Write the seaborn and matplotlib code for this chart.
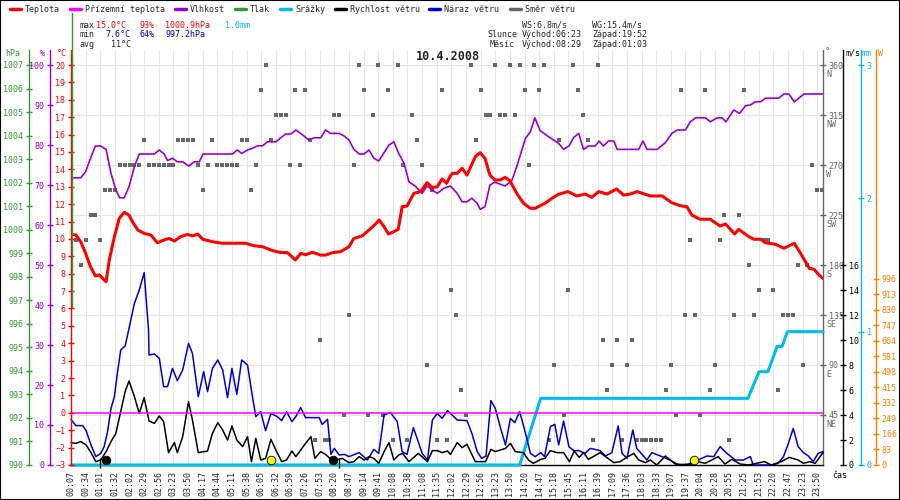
import matplotlib
matplotlib.use("Agg")
import matplotlib.pyplot as plt
import matplotlib.transforms as mtransforms
from matplotlib.lines import Line2D
from matplotlib.patches import Rectangle
import numpy as np
import seaborn as sns

RED = "#ff0000"
MAGENTA = "#ff00ff"
PURPLE = "#9900cc"
GREEN = "#339933"
CYAN = "#00bbee"
BLACK = "#000000"
BLUE = "#0000cc"
GRAY = "#666666"
ORANGE = "#ff8000"

# x axis: sample index, one label every 3 samples
time_labels = ["00:07", "00:34", "01:01", "01:32", "02:02", "02:29", "02:56", "03:23", "03:50",
               "04:17", "04:44", "05:11", "05:38", "06:05", "06:32", "06:59", "07:26", "07:53",
               "08:20", "08:47", "09:14", "09:41", "10:08", "10:38", "11:08", "11:35", "12:02",
               "12:29", "12:56", "13:23", "13:50", "14:20", "14:47", "15:18", "15:45", "16:11",
               "16:39", "17:09", "17:36", "18:03", "18:33", "19:07", "19:37", "20:04", "20:28",
               "20:55", "21:25", "21:53", "22:20", "22:47", "23:23", "23:50"]

# temperature (°C)
temp_k = [0, 1, 2, 3, 4, 5, 5.8, 6.5, 7.2, 7.85, 8.9, 9.9, 10.9, 11.9, 12.6, 13.7, 15, 16.4, 17.7, 19.1,
          20.1, 21.2, 22.5, 23.9, 24.9, 26, 27, 29, 31, 35.8, 37.5, 39.3, 41, 42.7, 44.4, 46, 47.1, 48.1, 49.5, 51.2,
          52.2, 53.6, 55.3, 57, 58, 59.7, 61.1, 62.1, 63.2, 64.2, 65.1, 66.2, 67.1, 67.9, 68.9, 70.3, 71.7, 73, 74.1, 75.1,
          76.1, 77, 77.8, 78.2, 79.2, 80.2, 81.2, 82.9, 83.9, 84.9, 85.9, 86.9, 88, 89, 90, 91.4, 92.8, 94.2, 95.2, 97.2,
          98.6, 99.9, 101.9, 103.7, 105.4, 106.8, 108.2, 109.9, 111.9, 113.3, 114.7, 116.1, 117.8, 118.8, 121.2, 123.2,
          124.9, 126.3, 127.3, 129,
          131.1, 133.1, 134.2, 136.1, 136.9, 139, 140, 141.4, 142.4, 144.5, 146.2, 148.3, 149.6, 151.4, 152.4, 153.4,
          154.2]
temp_c = [10.26, 10.22, 9.84, 9.17, 8.40, 7.87, 7.93, 7.73, 7.54, 8.79, 10.13, 11.18, 11.53, 11.37, 10.99, 10.51,
          10.32, 10.22, 9.78, 9.94,
          10.03, 9.88, 10.13, 10.26, 10.17, 10.28, 9.98, 9.84, 9.75, 9.75, 9.61, 9.55, 9.36, 9.23, 9.21, 8.79, 9.17,
          9.09, 9.23, 9.07,
          9.07, 9.21, 9.27, 9.55, 10.03, 10.17, 10.51, 10.76, 11.09, 10.70, 10.28, 10.42, 10.55, 11.85, 11.89, 12.62,
          12.72, 13.23, 12.95, 13.00,
          13.45, 13.20, 13.62, 13.77, 13.77, 14.06, 13.67, 14.73, 14.96, 14.63, 13.67, 13.39, 13.39, 13.54, 13.35,
          12.62, 12.05, 11.76, 11.76, 12.05,
          12.33, 12.56, 12.72, 12.47, 12.58, 12.39, 12.72, 12.58, 12.87, 12.52, 12.58, 12.72, 12.56, 12.47, 12.47,
          12.08, 11.91, 11.85, 11.37, 11.13,
          11.13, 10.74, 10.86, 10.28, 10.55, 10.13, 9.98, 9.98, 9.78, 9.69, 9.46, 9.75, 9.17, 8.31, 8.25, 7.92, 7.73]

# apparent (ground) temperature, flat at zero
feel_k = [0, 154.2]
feel_c = [0, 0]

# humidity (%)
hum_k = [0, 2, 3, 4, 5, 6.1, 7.2, 8.2, 9.2, 10, 10.9, 11.9, 13, 14, 17.1, 18.1, 19.1, 19.8, 20.8, 21.8,
         22.9, 24.1, 25.3, 26.3, 27.1, 33.1, 34.1, 35, 36.2, 37.2, 38.3, 39.3, 40.3, 42, 44, 45.1, 46.1, 47.5, 48.8, 49.8,
         51.2, 52.2, 53.2, 55, 56, 57, 58, 59.1, 60.1, 61.1, 62.1, 63.1, 64.2, 65.2, 66.2, 67.2, 68.3, 69.3, 70.7, 72,
         73, 74.1, 75.1, 76.5, 77.8, 79.2, 80.2, 81.2, 82.2, 83.3, 83.9, 84.9, 85.9, 86.9, 89, 90.4, 91.4, 93.2, 94.2, 95.1,
         96.2, 97.9, 100, 101, 102.1, 103.1, 104.1, 105.1, 106.1, 107.5, 108.3, 109.2, 110.2, 111.3, 112, 116.4, 117.3,
         118.1, 120.2, 121.9,
         123.2, 124.3, 126, 127, 128.1, 130.1, 131.1, 132.5, 133.5, 134.3, 135.9, 137.1, 138.3, 139.3, 140.3, 141.4,
         142.4, 145.1, 146.2, 147.2,
         148.3, 150.3, 154.2]
hum_pct = [71.8, 71.8, 73.3, 76.7, 79.75, 79.75, 78.9, 72.9, 68.75, 66.8, 66.8, 69.6, 74.6, 77.75, 77.75, 78.75,
           77.75, 76.1, 76.7, 75.8,
           75.8, 74.75, 75.8, 75.8, 77.75, 77.75, 78.75, 77.9, 78.75, 79.2, 79.8, 79.8, 80.8, 80.8, 82.75, 82.75,
           83.75, 82.5, 81.25, 81.8,
           81.8, 83.75, 82.9, 82.9, 82.25, 81.25, 78.9, 77.75, 77.75, 78.75, 76.7, 76.0, 78.1, 80.0, 80.8, 77.9,
           75.4, 70.8, 69.6, 67.9,
           69.75, 68.75, 67.9, 69.2, 69.75, 67.9, 65.8, 65.8, 66.7, 65.4, 63.9, 64.6, 70.0, 70.7, 69.75, 71.1,
           74.6, 81.7, 83.3, 86.8,
           83.6, 82.1, 80.4, 78.9, 79.75, 81.9, 82.9, 78.9, 79.75, 79.75, 81.0, 79.75, 81.0, 81.0, 78.9, 78.9,
           81.0, 78.9, 78.9, 80.6,
           82.9, 83.75, 83.75, 85.8, 86.8, 86.8, 85.8, 86.8, 86.8, 85.8, 88.75, 87.9, 89.8, 90.0, 90.8, 90.8,
           91.7, 91.7, 92.75, 92.75,
           90.8, 92.75, 92.75]

# cumulative rain (mm)
rain_k = [0, 92, 96.3, 138.8, 141.1, 142.9, 144.8, 145.8, 146.9, 154.2]
rain_mm = [0, 0, 0.5, 0.5, 0.7, 0.7, 0.89, 0.89, 1.0, 1.0]

# wind gust (m/s)
gust_k = [0, 1, 2.4, 3.1, 4.1, 5.1, 6.1, 6.8, 7.5, 8.2, 8.9, 9.6, 10.2, 11.1, 11.9, 13, 14, 15, 15.9, 16.0,
          17.1, 18.1, 19, 19.8, 20.8, 21.8, 22.9, 24.1, 24.9, 26.1, 27.2, 28, 29, 30.1, 31.1, 32.1, 33, 34, 35, 36.2,
          37.2, 37.9, 38.9, 39.9, 41, 42.3, 43.2, 44.2, 45.3, 46.1, 47.1, 48.1, 50.9, 51.5, 52.6, 53.3, 54, 55, 56.1, 57,
          59.1, 60.8, 62.1, 63.1, 64.2, 65.5, 66.9, 67.9, 68.9, 70.2, 71.2, 72, 73.1, 74.1, 75.1, 76.1, 77.2,
          77.8, 79.2, 81.2, 82.2, 83.3, 84.2, 85.1, 86.1, 87, 88.1, 89.1, 90.1, 91, 92, 93.2, 94.2, 95.2, 96.3, 97.1, 98.3,
          99.2, 100, 101, 102.1, 103.1, 104.1, 105.4, 106.5, 108.5, 109.6, 110.9, 112.2, 113, 114, 115.2, 116, 117.1,
          118.1, 119.1, 121.2,
          123.2, 124.6, 126.6, 128.6, 130.4, 131.8, 133.1, 134.5, 136.2, 137.9, 139.3, 139.9, 143.7, 145, 146.1, 147.1,
          148.1, 149.1, 150.2, 151.2,
          152.2, 153.2, 154.2]
gust_ms = [3.65, 3.15, 3.15, 2.75, 1.6, 0.67, 0.93, 1.47, 2.67, 4.53, 5.47, 7.6, 9.2, 9.52, 10.93, 12.93, 14.0,
           15.39, 10.8, 8.8,
           8.88, 8.53, 6.27, 6.27, 7.73, 6.75, 7.6, 9.73, 8.93, 5.47, 7.47, 5.87, 7.73, 8.4, 7.6, 5.39, 7.73, 5.65,
           8.4, 8.0,
           5.47, 3.87, 4.27, 2.75, 4.13, 3.87, 3.55, 4.27, 3.47, 3.87, 4.59, 3.79, 3.79, 3.25, 3.65, 0.85, 1.33, 0.8,
           0.85, 0.67,
           0.99, 0.4, 1.25, 0.93, 4.0, 4.21, 3.47, 1.07, 0.85, 2.99, 1.87, 0.93, 0.4, 3.6, 4.13, 3.73, 4.35,
           4.13, 3.6, 3.55, 2.53, 1.07, 0.53, 0.72, 5.15, 4.53, 2.93, 1.6, 3.73, 3.39, 4.27, 2.53, 0.93, 0.67, 0.99,
           0.67, 3.07,
           3.25, 1.6, 3.52, 1.47, 1.15, 1.15, 0.93, 1.33, 1.15, 0.72, 0.99, 3.12, 0.93, 0.53, 2.8, 1.33, 0.85, 0.4,
           0.99, 0.67,
           0.32, 0.0, 0.08, 0.4, 0.72, 0.67, 1.47, 0.93, 0.4, 0.4, 0.67, 0.0, 0.0, 0.13, 0.67, 1.73, 2.93, 1.47,
           0.99, 0.72,
           0.27, 0.93, 1.07]

# wind speed (m/s)
speed_k = [0, 1, 2, 3.1, 4.1, 5.1, 6.1, 7.2, 8.2, 9.2, 10.2, 11.1, 11.9, 13, 14, 15, 16, 17.1, 18.1, 19,
           20, 21.2, 21.8, 22.9, 24.1, 24.9, 26.1, 28, 29, 30.1, 31.1, 32.1, 33, 34, 35.2, 36.2, 37, 37.9, 38.9, 39.9,
           41, 42, 43.2, 44.2, 45.3, 46.1, 47.1, 48.1, 49.2, 50, 51.2, 52.2, 53.3, 54.3, 55.6, 57, 58, 59.1, 60.1, 61.1,
           62.1, 63.1, 64.2, 65.2, 66.2, 67.2, 68, 69.3, 71.2, 73.1, 74.1, 75.1, 76.1, 77.2,
           77.8, 79.2, 80.2, 81.2, 82.9, 85, 86.1, 87, 89.1, 90.1, 91.1, 92.8, 93.8, 94.8, 96.3, 97.2, 98.3, 99.6, 101,
           102.2,
           103.2, 104.2, 105.1, 106.1, 108.5, 109.6, 111.3, 112.6, 114.2, 115.4, 116.4, 117.8, 118.8, 120.1, 121.9,
           123.9, 126.6, 128.6, 130, 131.4,
           132.7, 134.1, 135.5, 137.2, 138.9, 142.2, 143.6, 145.6, 147.3, 149.1, 150.2, 151.5, 152.6, 154.2]
speed_ms = [1.79, 1.73, 1.87, 1.6, 0.99, 0.27, 0.4, 1.07, 1.87, 2.53, 4.27, 5.87, 6.72, 5.47, 4.13, 5.39, 3.52,
            3.33, 3.92, 3.47,
            0.99, 1.79, 0.99, 2.27, 5.07, 3.6, 0.99, 1.12, 2.53, 3.39, 2.8, 2.0, 3.12, 2.0, 1.47, 2.27, 0.27, 2.13,
            0.4, 0.53,
            2.05, 1.2, 0.27, 0.4, 1.12, 0.67, 1.2, 1.73, 2.27, 0.53, 1.07, 0.85, 0.45, 0.4, 0.53, 0.19, 0.27, 0.67,
            0.4, 0.67,
            0.53, 0.13, 1.07, 1.79, 0.4, 0.8, 0.93, 0.27, 0.93, 0.27, 1.15, 1.15, 0.99, 1.12,
            0.85, 1.79, 1.39, 1.65, 0.27, 0.27, 1.25, 1.07, 1.33, 1.73, 1.07, 0.99, 0.4, 0.13, 0.45, 0.53, 1.15,
            0.99, 0.99, 0.27,
            1.12, 0.61, 0.99, 0.45, 0.99, 0.67, 0.19, 0.27, 0.67, 0.93, 0.4, 0.19, 0.4, 0.0, 0.72, 0.08, 0.0, 0.27,
            0.13, 0.4,
            0.67, 0.08, 0.45, 0.08, 0.0, 0.27, 0.0, 0.27, 0.61, 0.4, 0.13, 0.27, 0.13, 0.99]

# wind direction (deg), one per sample
wind_dir = [247.5, 202.5, 180, 202.5, 225, 225, 202.5, 247.5, 247.5, 247.5,
            270, 270, 270, 270, 270, 292.5, 270, 270, 270, 270,
            270, 270, 292.5, 292.5, 292.5, 292.5, 270, 247.5, 270, 292.5,
            270, 270, 270, 270, 270, 292.5, 292.5, 247.5, 270, 337.5,
            360, 292.5, 315, 315, 315, 270, 337.5, 270, 337.5, 292.5,
            22.5, 112.5, 22.5, 22.5, 315, 315, 45, 135, 270, 360,
            337.5, 45, 315, 360, 45, 337.5, 22.5, 360, 270, 22.5,
            315, 292.5, 270, 90, 247.5, 22.5, 337.5, 22.5, 157.5, 135,
            67.5, 45, 360, 292.5, 337.5, 315, 315, 360, 315, 315,
            360, 315, 360, 337.5, 270, 360, 337.5, 360, 22.5, 90,
            292.5, 45, 157.5, 360, 337.5, 315, 292.5, 22.5, 360, 112.5,
            67.5, 90, 112.5, 22.5, 90, 112.5, 22.5, 22.5, 22.5, 22.5,
            22.5, 22.5, 67.5, 90, 45, 337.5, 135, 202.5, 135, 45,
            337.5, 67.5, 90, 202.5, 225, 22.5, 135, 225, 337.5, 180,
            135, 157.5, 202.5, 202.5, 157.5, 67.5, 135, 135, 135, 180,
            90, 180, 270, 247.5, 247.5]
dir_ticks = [45, 90, 135, 180, 225, 270, 315, 360]
dir_names = ["NE", "E", "SE", "S", "SW", "W", "NW", "N"]

# sun (yellow) and moon (black) markers
sun_k = [41.0, 127.7]
moon_k = [7.2, 53.7]
moon_tick_k = [6.0, 54.9]

# legend row
leg_names = ["Teplota", "Přízemní teplota", "Vlhkost", "Tlak", "Srážky",
             "Rychlost větru", "Náraz větru", "Směr větru"]
leg_x = [25, 85, 190, 250, 295, 350, 444, 525]

sns.set_style("white")
plt.rcParams["font.family"] = ["DejaVu Sans Mono"]
FS = 6

W, H = 900, 500
L, R, T, B = 71, 823, 50, 465
fig = plt.figure(figsize=(9, 5), dpi=100)
ax_dir = fig.add_axes([L / W, 1 - B / H, (R - L) / W, (B - T) / H])
XMAX = 154.2


def fx(x):
    return (x - L) / (R - L)


def side_axis(color, side, frac, lim, ticks):
    a = ax_dir.twinx()
    a.set_ylim(*lim)
    for s in a.spines.values():
        s.set_visible(False)
    a.spines[side].set_visible(True)
    a.spines[side].set_position(("axes", frac))
    a.spines[side].set_color(color)
    a.spines[side].set_linewidth(1)
    if side == "left":
        a.yaxis.tick_left()
    else:
        a.yaxis.tick_right()
    a.set_yticks(ticks)
    a.tick_params(axis="y", colors=color, direction="inout", length=5, width=1,
                  labelsize=FS, pad=1.5)
    return a


# right side scales
ax_w = side_axis(ORANGE, "right", fx(876), (0, 2222), np.arange(0, 997, 83))
ax_rain = side_axis(CYAN, "right", fx(861), (0, 3.1125), [0, 1, 2, 3])
ax_press = side_axis(GREEN, "left", fx(29), (990, 1007.6375), np.arange(990, 1008, 1))
ax_hum = side_axis(PURPLE, "left", fx(50), (0, 103.75), np.arange(0, 101, 10))
ax_wind = side_axis(BLACK, "right", fx(843), (0, 33.2), np.arange(0, 17, 2))
ax_temp = side_axis(RED, "left", 0.0, (-3, 20.8625), np.arange(-3, 21, 1))

# base axes: wind direction + grid
ax_dir.set_xlim(0, XMAX)
ax_dir.set_ylim(0, 373.5)
for s in ["top", "left"]:
    ax_dir.spines[s].set_visible(False)
ax_dir.spines["right"].set_color(GRAY)
ax_dir.spines["right"].set_linewidth(1)
ax_dir.spines["bottom"].set_color(BLACK)
ax_dir.spines["bottom"].set_linewidth(1)
ax_dir.yaxis.tick_right()
ax_dir.set_yticks(dir_ticks)
ax_dir.set_yticklabels([str(d) for d in dir_ticks])
ax_dir.tick_params(axis="y", colors=GRAY, direction="inout", length=5, width=1, labelsize=FS, pad=1.5,
                   left=False, labelleft=False, right=True, labelright=True)
ax_dir.set_xticks(np.arange(0, 3 * len(time_labels), 3))
ax_dir.set_xticklabels(time_labels, rotation=90, fontsize=FS)
ax_dir.tick_params(axis="x", length=0, pad=4)
ax_dir.grid(True, color="#e6e6e6", linewidth=0.8)
ax_dir.set_axisbelow(True)
sns.scatterplot(x=np.arange(len(wind_dir)), y=wind_dir, marker="s", s=9, color=GRAY,
                linewidth=0, ax=ax_dir, zorder=2)
letter_tr = mtransforms.offset_copy(ax_dir.get_yaxis_transform(), fig=fig, x=3, y=-5, units="dots")
for d, name in zip(dir_ticks, dir_names):
    ax_dir.text(1.0, d, name, transform=letter_tr, ha="left", va="top", fontsize=FS, color=GRAY)

sns.lineplot(x=rain_k, y=rain_mm, ax=ax_rain, color=CYAN, linewidth=2.2,
             estimator=None, sort=False, clip_on=False)
sns.lineplot(x=hum_k, y=hum_pct, ax=ax_hum, color=PURPLE, linewidth=1.2,
             estimator=None, sort=False)
sns.lineplot(x=gust_k, y=gust_ms, ax=ax_wind, color=BLUE, linewidth=1.1,
             estimator=None, sort=False, clip_on=False)
sns.lineplot(x=speed_k, y=speed_ms, ax=ax_wind, color=BLACK, linewidth=1.1,
             estimator=None, sort=False, clip_on=False)
ax_wind.vlines(moon_tick_k, -0.25, 0.55, color=BLACK, linewidth=1, clip_on=False)
sns.scatterplot(x=moon_k, y=[0.4] * len(moon_k), ax=ax_wind, s=38, color=BLACK,
                edgecolor=BLACK, linewidth=0.6, zorder=5, clip_on=False)
sns.scatterplot(x=sun_k, y=[0.4] * len(sun_k), ax=ax_wind, s=38, color="#ffff00",
                edgecolor=BLACK, linewidth=0.6, zorder=5, clip_on=False)
sns.lineplot(x=feel_k, y=feel_c, ax=ax_temp, color=MAGENTA, linewidth=1.1,
             estimator=None, sort=False)
sns.lineplot(x=temp_k, y=temp_c, ax=ax_temp, color=RED, linewidth=2.2,
             estimator=None, sort=False)
for a in [ax_dir, ax_w, ax_rain, ax_press, ax_hum, ax_wind, ax_temp]:
    a.set_xlim(0, XMAX)
    a.set_xlabel("")
    a.set_ylabel("")


def ftext(x, y, s, **kw):
    kw.setdefault("fontsize", FS)
    kw.setdefault("ha", "left")
    kw.setdefault("va", "center")
    fig.text(x / W, 1 - y / H, s, **kw)


# scale headers
ftext(20, 54, "hPa", color=GREEN, ha="right")
ftext(45, 54, "%", color=PURPLE, ha="right")
ftext(67, 54, "°C", color=RED, ha="right")
ftext(825, 52, "°", color=GRAY)
ftext(845, 53, "m/s", color=BLACK)
ftext(862, 53, "mm", color=CYAN)
ftext(878, 53, "W", color=ORANGE)
ftext(832, 476, "čas", color=BLACK)

# title and summary
ftext(448, 57, "10.4.2008", ha="center", fontsize=8.5, fontweight="bold")
ftext(79, 25, "max")
ftext(96, 25, "15.0°C", color=RED)
ftext(139, 25, "93%", color=RED)
ftext(165, 25, "1000.9hPa", color=RED)
ftext(225, 25, "1.0mm", color=CYAN)
ftext(79, 34.5, "min")
ftext(105, 34.5, "7.6°C", color=BLUE)
ftext(139, 34.5, "64%", color=BLUE)
ftext(165, 34.5, "997.2hPa", color=BLUE)
ftext(79, 44.5, "avg")
ftext(111, 44.5, "11°C")
ftext(522, 25, "WS:6.8m/s")
ftext(592, 25, "WG:15.4m/s")
ftext(487, 34.5, "Slunce")
ftext(522, 34.5, "Východ:06:23")
ftext(592, 34.5, "Západ:19:52")
ftext(490, 44.5, "Měsíc")
ftext(522, 44.5, "Východ:08:29")
ftext(592, 44.5, "Západ:01:03")

leg_colors = [RED, MAGENTA, PURPLE, GREEN, CYAN, BLACK, BLUE, GRAY]
for name, x, c in zip(leg_names, leg_x, leg_colors):
    fig.add_artist(Line2D([(x - 15) / W, (x - 4) / W], [1 - 9 / H, 1 - 9 / H], color=c, linewidth=2.5))
    ftext(x, 9, name)

# separator and frame
fig.add_artist(Line2D([72 / W, 72 / W], [1 - 13 / H, 1 - 307 / H], color=GREEN, linewidth=1))
fig.add_artist(Rectangle((0, 0), 1, 1, transform=fig.transFigure, fill=False,
                         edgecolor=BLACK, linewidth=1.5))

fig.savefig("out.png", dpi=100)
